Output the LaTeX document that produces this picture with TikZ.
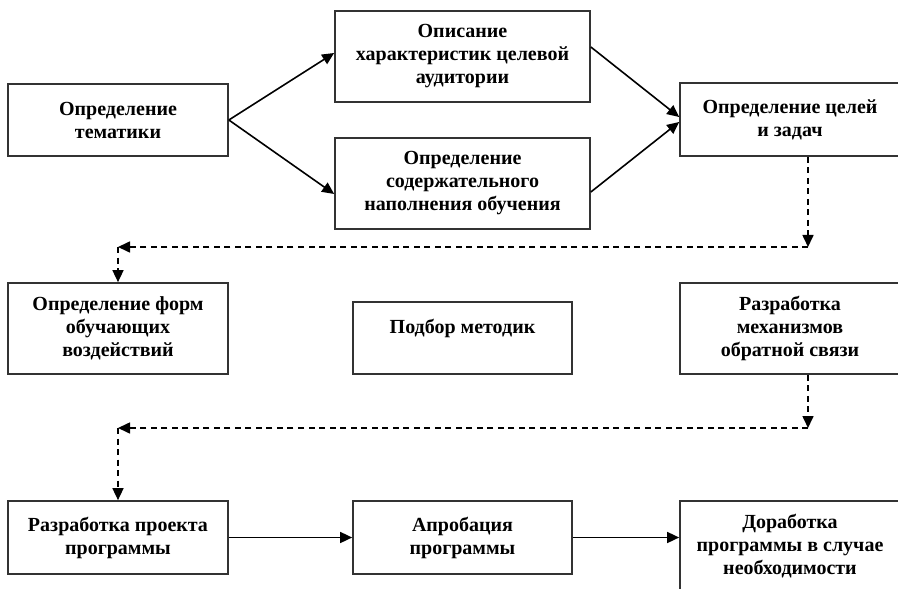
\documentclass[tikz,border=0pt]{standalone}
\usepackage{fontspec}
\setmainfont{Liberation Serif}
\usetikzlibrary{arrows.meta,calc}
\begin{document}
\begin{tikzpicture}[x=1bp,y=-1bp,
  box/.style={draw=black!80,line width=1.7bp,rectangle,inner sep=0pt,align=center,
    font=\fontsize{20bp}{23bp}\selectfont\bfseries},
  arr/.style={line width=1.6bp,-{Triangle[length=12bp,width=11bp]}},
  darr/.style={arr,dash pattern=on 6bp off 4.5bp}]
\useasboundingbox (0,0) rectangle (898,589);
\clip (0,0) rectangle (898,589);
\fill[white] (0,0) rectangle (898,589);
\node[box,minimum width=220bp,minimum height=72bp] (b1) at (118,120) {Определение\\тематики};
\node[box,minimum width=255bp,minimum height=91bp] (b2) at (462.5,56.5) {Описание\\характеристик целевой\\аудитории};
\node[box,minimum width=255bp,minimum height=91bp] (b3) at (462.5,183.5) {Определение\\содержательного\\наполнения обучения};
\node[box,minimum width=220bp,minimum height=73bp] (b4) at (790,119.5) {Определение целей\\и задач};
\node[box,minimum width=220bp,minimum height=91bp] (b5) at (118,328.5) {Определение форм\\обучающих\\воздействий};
\node[box,minimum width=219bp,minimum height=72bp] (b6) at (462.5,338) {Подбор методик\\\mbox{}};
\node[box,minimum width=220bp,minimum height=91bp] (b7) at (790,328.5) {Разработка\\механизмов\\обратной связи};
\node[box,minimum width=220bp,minimum height=73bp] (b8) at (118,537.5) {Разработка проекта\\программы};
\node[box,minimum width=219bp,minimum height=73bp] (b9) at (462.5,537.5) {Апробация\\программы};
\node[box,minimum width=220bp,minimum height=91bp] (b10) at (790,546.5) {Доработка\\программы в случае\\необходимости};
\coordinate (c1) at (808,247);
\coordinate (c2) at (118,247);
\coordinate (c3) at (808,428);
\coordinate (c4) at (118,428);
\draw[arr] (b1.east) -- ([yshift=3.5bp]b2.west);
\draw[arr] (b1.east) -- ([yshift=-10.5bp]b3.west);
\draw[arr] ([yshift=9.5bp]b2.east) -- ([yshift=2.5bp]b4.west);
\draw[arr] ([yshift=-8.5bp]b3.east) -- ([yshift=-2.5bp]b4.west);
\draw[darr] (c1 |- b4.south) -- (c1);
\draw[darr] (c1) -- (c2);
\draw[darr] (c2) -- (b5.north);
\draw[darr] (c3 |- b7.south) -- (c3);
\draw[darr] (c3) -- (c4);
\draw[darr] (c4) -- (b8.north);
\draw[arr] (b8.east) -- (b9.west);
\draw[arr] (b9.east) -- (b10.west |- b9.east);
\end{tikzpicture}
\end{document}
